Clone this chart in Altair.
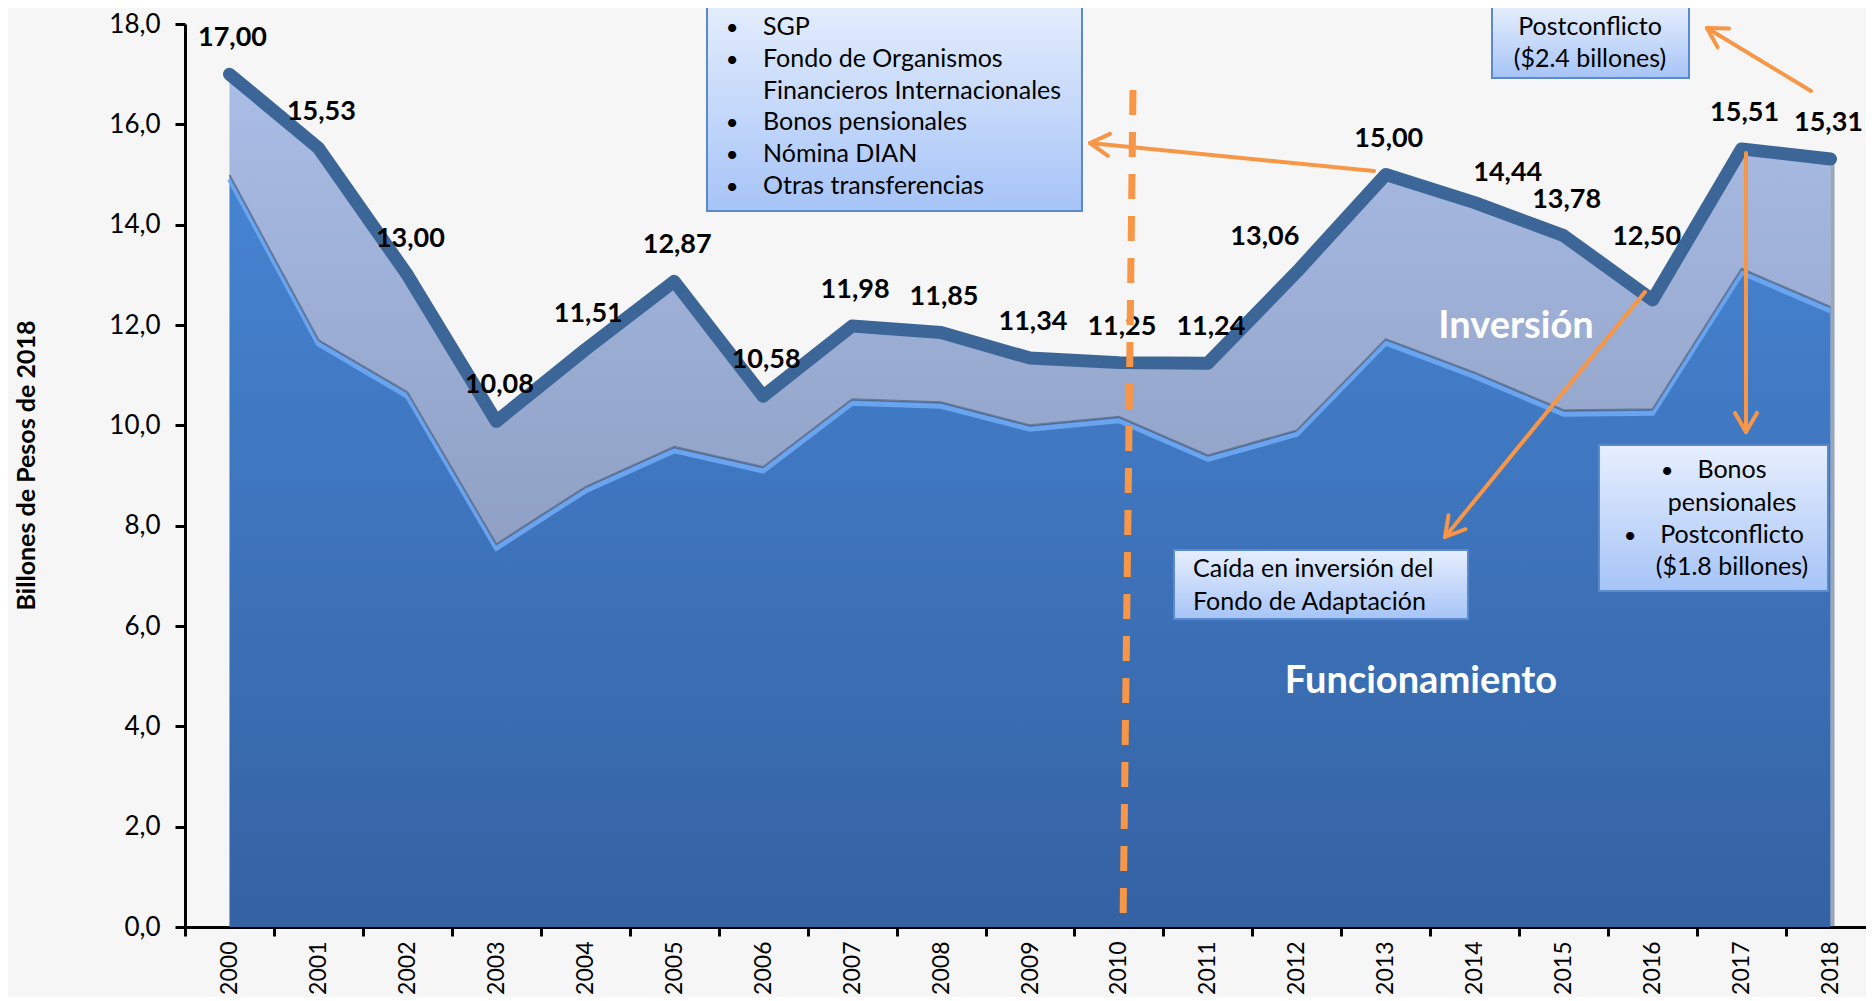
import math
import altair as alt
import pandas as pd

# ---------------- data ----------------
years = [str(y) for y in range(2000, 2019)]
total = [17.00, 15.53, 13.00, 10.08, 11.51, 12.87, 10.58, 11.98, 11.85, 11.34,
         11.25, 11.24, 13.06, 15.00, 14.44, 13.78, 12.50, 15.51, 15.31]
funcionamiento = [14.99, 11.70, 10.66, 7.63, 8.77, 9.57, 9.17, 10.52, 10.46, 10.00,
                  10.17, 9.40, 9.90, 11.72, 11.05, 10.30, 10.32, 13.12, 12.36]
y_ticks = [0, 2, 4, 6, 8, 10, 12, 14, 16, 18]

y_title = "Billones  de Pesos de 2018"
box1_bullets = ["SGP", "Fondo de Organismos", "Bonos pensionales", "Nómina DIAN", "Otras transferencias"]
box1_cont = "Financieros Internacionales"
box2_lines = ["Postconflicto", "($2.4 billones)"]
box3_lines = ["Caída en inversión del", "Fondo de Adaptación"]
box4_lines = ["Bonos", "pensionales", "Postconflicto", "($1.8 billones)"]
lbl_inv = "Inversión"
lbl_fun = "Funcionamiento"

FONT = "Lato"
ORANGE = "#F79646"
W, H = 1681, 903
OY = -2  # keeps annotations at the same page position after the 2px top shift

df = pd.DataFrame({"year": years, "total": total, "func": funcionamiento})

xs = alt.Scale(type="band", domain=years, range=[0, 1690], paddingInner=0, paddingOuter=0)
ys = alt.Scale(domain=[0, 18], nice=False, zero=True)

x_axis = alt.Axis(title=None, tickBand="extent", labelAngle=270, labelAlign="right",
                  labelBaseline="middle", labelFont=FONT, labelFontSize=23, labelColor="black",
                  labelPadding=5, tickSize=9, tickWidth=3, tickColor="black",
                  domainColor="black", domainWidth=3, grid=False)
y_axis = alt.Axis(values=y_ticks, labelExpr="replace(format(datum.value, '.1f'), '.', ',')",
                  title=y_title, titleFont=FONT, titleFontSize=25, titleFontWeight="bold",
                  titleColor="black", titleAngle=270, titleX=-151, titleY=441,
                  titleBaseline="alphabetic", titleAlign="center",
                  labelFont=FONT, labelFontSize=26, labelColor="black", labelPadding=15,
                  tickSize=10, tickWidth=3, tickColor="black", domainColor="black",
                  domainWidth=3, grid=False)

X = alt.X("year:O", scale=xs, bandPosition=0.5, axis=x_axis)

base = alt.Chart(df).transform_calculate(
    label="replace(format(datum.total, '.2f'), '.', ',')"
)

grad_low = alt.LinearGradient(gradient="linear", x1=0, x2=0, y1=0, y2=1, stops=[
    alt.GradientStop(color="#4684D2", offset=0), alt.GradientStop(color="#3462A3", offset=1)])
grad_up = alt.LinearGradient(gradient="linear", x1=0, x2=0, y1=0, y2=1, stops=[
    alt.GradientStop(color="#AABDE6", offset=0), alt.GradientStop(color="#8FA0C4", offset=1)])

area_low = base.mark_area(color=grad_low).encode(
    x=X, y=alt.Y("func:Q", scale=ys, axis=y_axis, stack=None))
area_up = base.mark_area(color=grad_up).encode(
    x=X, y=alt.Y("total:Q", scale=ys, stack=None), y2="func:Q")
highlight = base.mark_line(color="#6FA9F3", strokeWidth=5, yOffset=4, opacity=0.9).encode(
    x=X, y=alt.Y("func:Q", scale=ys))
shadow = base.mark_line(color="#56627A", strokeWidth=2, opacity=0.7).encode(
    x=X, y=alt.Y("func:Q", scale=ys))
edge = base.transform_filter("datum.year == '2018'").mark_rule(
    color="#27466F", strokeWidth=4, opacity=0.45, xOffset=2).encode(
    x=X, y=alt.Y("total:Q", scale=ys), y2=alt.value(H))
tline = base.mark_line(color="#3D6698", strokeWidth=13, strokeCap="round", strokeJoin="round").encode(
    x=X, y=alt.Y("total:Q", scale=ys))

def labels(flt, dx, dy):
    return base.transform_filter(flt).mark_text(
        font=FONT, fontSize=27, fontWeight="bold", color="black",
        align="center", baseline="alphabetic", dx=dx, dy=dy).encode(
        x=X, y=alt.Y("total:Q", scale=ys), text="label:N")

special = ["2012", "2014", "2016", "2018"]
lab_main = labels(" && ".join(f"datum.year != '{s}'" for s in special), 3, -28)
lab_2012 = labels("datum.year == '2012'", -32, -27)
lab_2014 = labels("datum.year == '2014'", 33, -22)
lab_2016 = labels("datum.year == '2016'", -6, -55)
lab_2018 = labels("datum.year == '2018'", -2, -28)

main = alt.layer(area_low, area_up, highlight, shadow, edge, tline,
                 lab_main, lab_2012, lab_2014, lab_2016, lab_2018)

# ---------------- annotations (pixel positions in plot area) ----------------
PX = lambda f: alt.X(f, scale=None, axis=None)
PY = lambda f: alt.Y(f, scale=None, axis=None)

boxes = pd.DataFrame({
    "x": [522, 1307, 989, 1414], "x2": [897, 1504, 1283, 1643],
    "y": [v + OY for v in [-30, -17, 528, 423]], "y2": [v + OY for v in [189, 56, 597, 569]]})
grad_box = alt.LinearGradient(gradient="linear", x1=0, x2=0, y1=0, y2=1, stops=[
    alt.GradientStop(color="#E7EFFD", offset=0), alt.GradientStop(color="#A6C4F7", offset=1)])
box_shadow = alt.Chart(boxes).mark_rect(color="#6E6E6E", opacity=0.35, xOffset=4, yOffset=5).encode(
    x=PX("x:Q"), x2="x2:Q", y=PY("y:Q"), y2="y2:Q")
box_rect = alt.Chart(boxes).mark_rect(fill=grad_box, stroke="#5A89CC", strokeWidth=2).encode(
    x=PX("x:Q"), x2="x2:Q", y=PY("y:Q"), y2="y2:Q")

left_txt = pd.DataFrame({
    "x": [578, 578, 578, 578, 578, 578, 1008, 1008],
    "y": [v + OY for v in [13, 45, 77, 108, 140, 172, 555, 588]],
    "t": [box1_bullets[0], box1_bullets[1], box1_cont, box1_bullets[2], box1_bullets[3],
          box1_bullets[4], box3_lines[0], box3_lines[1]]})
center_txt = pd.DataFrame({
    "x": [1405, 1405, 1547, 1547, 1547, 1547],
    "y": [v + OY for v in [13, 45, 456, 489, 521, 553]],
    "t": box2_lines + box4_lines})
bullets = pd.DataFrame({
    "x": [547, 547, 547, 547, 547, 1482, 1445],
    "y": [v + OY for v in [13, 45, 108, 140, 172, 456, 521]],
    "t": ["•"] * 7})

def txt(d, align, size=25):
    return alt.Chart(d).mark_text(font=FONT, fontSize=size, color="black", align=align,
                                  baseline="alphabetic").encode(
        x=PX("x:Q"), y=PY("y:Q"), text="t:N")

big_txt = pd.DataFrame({"x": [1331, 1236], "y": [316 + OY, 671 + OY], "t": [lbl_inv, lbl_fun]})
big = alt.Chart(big_txt).mark_text(font=FONT, fontSize=38, fontWeight="bold", color="white",
                                   align="center", baseline="alphabetic").encode(
    x=PX("x:Q"), y=PY("y:Q"), text="t:N")

# arrows: tail -> head
arrows = [((1189, 149), (905, 121)), ((1626, 69), (1522, 6)),
          ((1460, 270), (1260, 515)), ((1561, 131), (1561, 410))]
segs = {"x": [], "y": [], "x2": [], "y2": []}
L, th = 22, math.radians(30)
for (tx, ty), (hx, hy) in arrows:
    ty += OY; hy += OY
    segs["x"].append(tx); segs["y"].append(ty); segs["x2"].append(hx); segs["y2"].append(hy)
    dx, dy = hx - tx, hy - ty
    n = math.hypot(dx, dy)
    ux, uy = dx / n, dy / n
    for s in (1, -1):
        c, sn = math.cos(s * th), math.sin(s * th)
        rx, ry = ux * c - uy * sn, ux * sn + uy * c
        segs["x"].append(hx); segs["y"].append(hy)
        segs["x2"].append(hx - L * rx); segs["y2"].append(hy - L * ry)
arrow_df = pd.DataFrame(segs)
arrow_layer = alt.Chart(arrow_df).mark_rule(color=ORANGE, strokeWidth=4, strokeCap="round").encode(
    x=PX("x:Q"), y=PY("y:Q"), x2="x2:Q", y2="y2:Q")

dash_df = pd.DataFrame({"x": [948], "y": [68 + OY], "x2": [938], "y2": [903]})
dash = alt.Chart(dash_df).mark_rule(color=ORANGE, strokeWidth=7, strokeDash=[25, 17]).encode(
    x=PX("x:Q"), y=PY("y:Q"), x2="x2:Q", y2="y2:Q")

annot = alt.layer(dash, arrow_layer, box_shadow, box_rect, txt(left_txt, "left"),
                  txt(center_txt, "center"), txt(bullets, "center", 22), big)

chart = alt.layer(main, annot).resolve_scale(x="independent", y="independent").properties(
    width=W, height=H,
    autosize=alt.AutoSizeParams(type="none"),
    padding={"left": 177, "top": 16, "right": 0, "bottom": 70},
    background="#F6F6F6",
).configure_view(stroke=None)

chart.save("out.html", embed_options={"renderer": "svg", "actions": False})
